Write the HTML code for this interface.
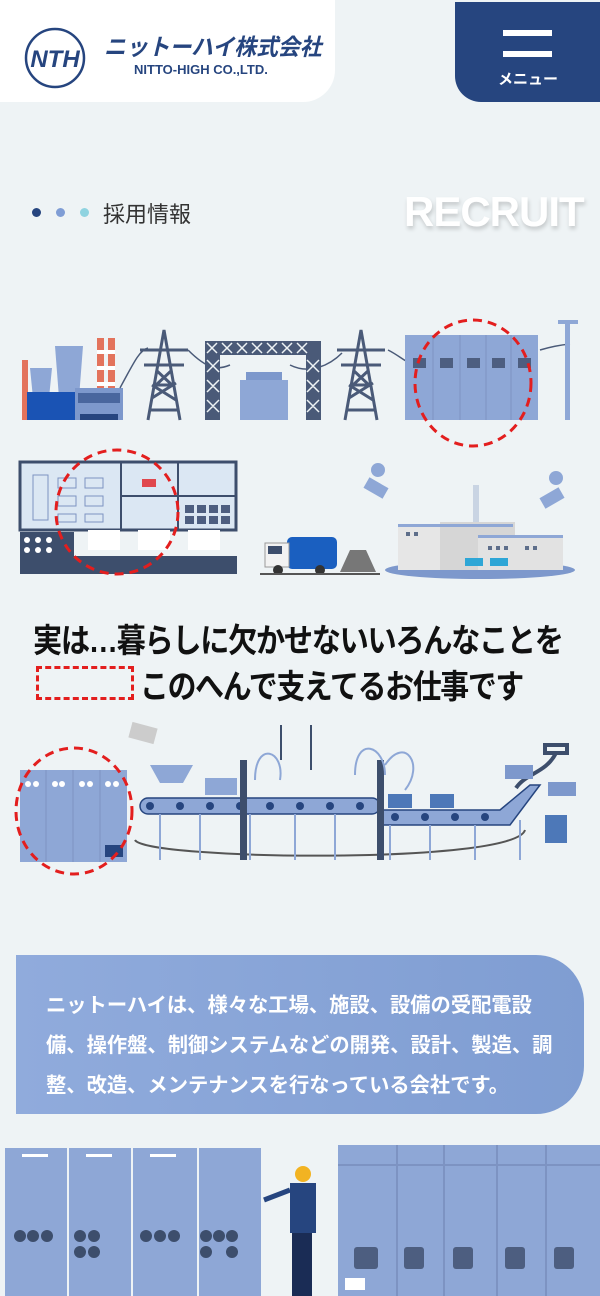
<!DOCTYPE html>
<html><head><meta charset="utf-8">
<style>
html,body{margin:0;padding:0}
body{width:600px;height:1296px;position:relative;overflow:hidden;background:#eef3f5;font-family:"Liberation Sans","Noto Sans CJK JP",sans-serif}
.abs{position:absolute}
.p{position:absolute;left:46px;font-size:20.3px;font-weight:bold;color:#fff;white-space:nowrap}
</style></head><body>
<div class="abs" style="left:0;top:0;width:335px;height:102px;background:#fff;border-bottom-right-radius:32px"></div>
<svg class="abs" style="left:22px;top:25px" width="66" height="66" viewBox="0 0 66 66">
<circle cx="33" cy="33" r="29" fill="none" stroke="#26457f" stroke-width="2.5"/>
<text x="33" y="42" text-anchor="middle" font-family="Liberation Sans" font-style="italic" font-weight="bold" font-size="24" fill="#26457f">NTH</text>
</svg>
<div class="abs" style="left:104px;top:28px;font-size:23px;font-weight:bold;font-style:italic;color:#26457f;white-space:nowrap;transform:scaleX(.95);transform-origin:left">ニットーハイ株式会社</div>
<div class="abs" style="left:134px;top:62px;font-size:13px;font-weight:bold;color:#26457f;white-space:nowrap">NITTO-HIGH CO.,LTD.</div>
<div class="abs" style="left:455px;top:2px;width:145px;height:100px;background:#26457f;border-bottom-left-radius:26px"></div>
<div class="abs" style="left:503px;top:30px;width:49px;height:6px;background:#fff"></div>
<div class="abs" style="left:503px;top:51px;width:49px;height:6px;background:#fff"></div>
<div class="abs" style="left:486px;top:68px;width:84px;text-align:center;font-size:15px;font-weight:bold;color:#fff">メニュー</div>

<div class="abs" style="left:32px;top:208px;width:9px;height:9px;border-radius:50%;background:#26457f"></div>
<div class="abs" style="left:56px;top:208px;width:9px;height:9px;border-radius:50%;background:#7f9dd5"></div>
<div class="abs" style="left:80px;top:208px;width:9px;height:9px;border-radius:50%;background:#8fd3e0"></div>
<div class="abs" style="left:103px;top:197px;font-size:22px;color:#333">採用情報</div>
<div class="abs" style="left:404px;top:188px;font-size:42px;font-weight:bold;color:#fff;text-shadow:1px 3px 4px rgba(0,0,0,.18);letter-spacing:-1px">RECRUIT</div>

<svg class="abs" style="left:0;top:300px" width="600" height="300" viewBox="0 0 600 300">
<rect x="22" y="60" width="6" height="60" fill="#e3735c"/>
<rect x="97" y="38" width="7" height="62" fill="#e3735c"/><rect x="108" y="38" width="7" height="62" fill="#e3735c"/>
<rect x="97" y="50" width="18" height="4" fill="#fff"/><rect x="97" y="66" width="18" height="4" fill="#fff"/><rect x="97" y="82" width="18" height="4" fill="#fff"/>
<path d="M30 68h22l-3 30h-16z" fill="#8ea7d6"/>
<path d="M55 46h28l-4 52h-20z" fill="#8ea7d6"/>
<rect x="27" y="92" width="50" height="28" fill="#1a53b4"/>
<rect x="75" y="88" width="48" height="32" fill="#7d98cc"/>
<rect x="78" y="93" width="42" height="10" fill="#26457f" opacity=".6"/>
<rect x="80" y="114" width="38" height="6" fill="#26457f"/>
<g fill="none" stroke="#4a5a78" stroke-width="3">
<path d="M148 120L164 30L180 120M150 110h28M154 85h20M157 65h14M152 98l24-15M152 85l24 15M156 70l16 15M172 70l-16 15M140 50h48M144 65h40"/>
<path d="M345 120L361 30L377 120M347 110h28M351 85h20M354 65h14M349 98l24-15M349 85l24 15M353 70l16 15M369 70l-16 15M337 50h48M341 65h40"/>
<path d="M120 88C135 60 140 50 148 48M188 50c20 20 30 20 42 15M290 65c20 10 40 0 52-12M388 50c10 5 15 10 20 12M540 50c10-3 20-5 30-6" stroke-width="1.5"/>
</g>
<g fill="#4a5a78"><rect x="205" y="41" width="116" height="14"/><rect x="205" y="41" width="15" height="79"/><rect x="306" y="41" width="15" height="79"/></g>
<g stroke="#eef3f5" stroke-width="1.5"><path d="M207 43l10 10M217 43l-10 10M222 43l10 10M232 43l-10 10M237 43l10 10M247 43l-10 10M252 43l10 10M262 43l-10 10M267 43l10 10M277 43l-10 10M282 43l10 10M292 43l-10 10M297 43l10 10M307 43l-10 10M307 60l12 12M319 60l-12 12M307 80l12 12M319 80l-12 12M307 100l12 12M319 100l-12 12M207 60l12 12M219 60l-12 12M207 80l12 12M219 80l-12 12M207 100l12 12M219 100l-12 12"/></g>
<rect x="240" y="80" width="48" height="40" fill="#8ea7d6"/><rect x="246" y="72" width="36" height="8" fill="#7d98cc"/>
<rect x="405" y="35" width="133" height="85" fill="#8ea7d6"/>
<g fill="#4d5e80"><rect x="413" y="58" width="13" height="10"/><rect x="440" y="58" width="13" height="10"/><rect x="467" y="58" width="13" height="10"/><rect x="492" y="58" width="13" height="10"/><rect x="518" y="58" width="13" height="10"/></g>
<g stroke="#7d93c2"><path d="M433 35v85M460 35v85M486 35v85M511 35v85"/></g>
<rect x="565" y="20" width="5" height="100" fill="#8ea7d6"/><rect x="558" y="20" width="20" height="4" fill="#8ea7d6"/>
<ellipse cx="473" cy="83" rx="58" ry="63" fill="none" stroke="#e31e1e" stroke-width="3" stroke-dasharray="9 6"/>
<rect x="20" y="162" width="216" height="68" fill="#dbe7f3" stroke="#3d4e6c" stroke-width="3"/>
<path d="M121 162v68M178 162v68M121 196h57M178 196h57" stroke="#3d4e6c" stroke-width="2"/>
<g fill="none" stroke="#7d93c2"><rect x="33" y="175" width="15" height="45"/><rect x="58" y="178" width="18" height="10"/><rect x="85" y="178" width="18" height="10"/><rect x="58" y="196" width="18" height="10"/><rect x="85" y="196" width="18" height="10"/><rect x="58" y="214" width="18" height="8"/><rect x="85" y="214" width="18" height="8"/></g>
<rect x="142" y="179" width="14" height="8" fill="#e0474d"/>
<g fill="#4d5e80"><rect x="185" y="205" width="9" height="8"/><rect x="197" y="205" width="9" height="8"/><rect x="209" y="205" width="9" height="8"/><rect x="221" y="205" width="9" height="8"/><rect x="185" y="216" width="9" height="8"/><rect x="197" y="216" width="9" height="8"/><rect x="209" y="216" width="9" height="8"/><rect x="221" y="216" width="9" height="8"/></g>
<rect x="20" y="232" width="54" height="24" fill="#3d4e6c"/>
<g fill="#fff"><circle cx="27" cy="240" r="3"/><circle cx="38" cy="240" r="3"/><circle cx="49" cy="240" r="3"/><circle cx="27" cy="250" r="3"/><circle cx="38" cy="250" r="3"/><circle cx="49" cy="250" r="3"/>
<rect x="88" y="230" width="32" height="20"/><rect x="138" y="230" width="32" height="20"/><rect x="188" y="230" width="32" height="20"/></g>
<rect x="20" y="256" width="217" height="18" fill="#3d4e6c"/>
<ellipse cx="117" cy="212" rx="61" ry="62" fill="none" stroke="#e31e1e" stroke-width="3" stroke-dasharray="9 6"/>
<rect x="287" y="237" width="50" height="32" rx="5" fill="#1a5fc0"/>
<rect x="265" y="243" width="24" height="24" fill="#f2f2f2" stroke="#999"/>
<rect x="268" y="246" width="14" height="8" fill="#3d4e6c"/>
<circle cx="278" cy="270" r="5" fill="#333"/><circle cx="320" cy="270" r="5" fill="#333"/>
<path d="M340 272l10-22h16l10 22z" fill="#777"/>
<path d="M260 274h120" stroke="#555" stroke-width="2"/>
<ellipse cx="480" cy="270" rx="95" ry="9" fill="#7d98cc"/>
<rect x="398" y="225" width="115" height="45" fill="#e6e6e6"/>
<rect x="473" y="185" width="6" height="45" fill="#c9d4e3"/>
<rect x="440" y="222" width="75" height="48" fill="#d6d6d6"/>
<rect x="478" y="236" width="85" height="34" fill="#e2e2e2"/>
<rect x="398" y="224" width="115" height="3" fill="#8ea7d6"/><rect x="478" y="235" width="85" height="3" fill="#8ea7d6"/>
<g fill="#5e6e8a"><rect x="406" y="232" width="4" height="4"/><rect x="414" y="232" width="4" height="4"/><rect x="488" y="246" width="4" height="4"/><rect x="496" y="246" width="4" height="4"/><rect x="504" y="246" width="4" height="4"/><rect x="525" y="246" width="4" height="4"/><rect x="533" y="246" width="4" height="4"/></g>
<rect x="465" y="258" width="18" height="8" fill="#2ea6d6"/><rect x="490" y="258" width="18" height="8" fill="#2ea6d6"/>
<g fill="#8ea7d6"><circle cx="378" cy="170" r="7"/><rect x="365" y="182" width="22" height="12" transform="rotate(30 376 188)"/><circle cx="556" cy="178" r="7"/><rect x="541" y="192" width="22" height="12" transform="rotate(-30 552 198)"/></g>
</svg>

<div class="abs" style="left:33px;top:614px;font-size:33px;font-weight:bold;color:#111;white-space:nowrap;letter-spacing:-1.5px;transform:scaleX(.885);transform-origin:left">実は…暮らしに欠かせないいろんなことを</div>
<div class="abs" style="left:36px;top:666px;width:92px;height:28px;border:3px dashed #e31e1e"></div>
<div class="abs" style="left:140px;top:660px;font-size:33px;font-weight:bold;color:#111;white-space:nowrap;letter-spacing:-1.5px;transform:scaleX(.875);transform-origin:left">このへんで支えてるお仕事です</div>

<svg class="abs" style="left:0;top:720px" width="600" height="170" viewBox="0 0 600 170">
<rect x="20" y="50" width="107" height="92" fill="#8ea7d6"/>
<g stroke="#7d93c2"><path d="M46 50v92M73 50v92M100 50v92"/></g>
<g fill="#fff"><circle cx="28" cy="64" r="3"/><circle cx="36" cy="64" r="3"/><circle cx="55" cy="64" r="3"/><circle cx="62" cy="64" r="3"/><circle cx="82" cy="64" r="3"/><circle cx="90" cy="64" r="3"/><circle cx="108" cy="64" r="3"/><circle cx="116" cy="64" r="3"/></g>
<rect x="105" y="125" width="18" height="12" fill="#26457f"/>
<ellipse cx="74" cy="91" rx="58" ry="63" fill="none" stroke="#e31e1e" stroke-width="3" stroke-dasharray="9 6"/>
<rect x="130" y="5" width="26" height="16" fill="#ccc" transform="rotate(15 143 13)"/>
<path d="M150 45h43l-10 18h-23z" fill="#8ea7d6"/>
<rect x="205" y="58" width="32" height="17" fill="#8ea7d6"/>
<path d="M135 120c10 20 380 25 390-10" fill="none" stroke="#555" stroke-width="2"/>
<rect x="140" y="78" width="240" height="16" rx="8" fill="#8ea7d6" stroke="#26457f" stroke-width="1.5"/>
<path d="M380 90h120l30-25h10l-30 40h-130z" fill="#8ea7d6" stroke="#26457f" stroke-width="1.5"/>
<g fill="#26457f"><circle cx="150" cy="86" r="4"/><circle cx="180" cy="86" r="4"/><circle cx="210" cy="86" r="4"/><circle cx="240" cy="86" r="4"/><circle cx="270" cy="86" r="4"/><circle cx="300" cy="86" r="4"/><circle cx="330" cy="86" r="4"/><circle cx="360" cy="86" r="4"/><circle cx="395" cy="97" r="4"/><circle cx="425" cy="97" r="4"/><circle cx="455" cy="97" r="4"/><circle cx="485" cy="97" r="4"/></g>
<g stroke="#8ea7d6" stroke-width="2"><path d="M160 94v46M200 94v46M250 94v46M295 94v46M335 94v46M390 105v35M430 105v35M475 105v35M520 100v40"/></g>
<rect x="240" y="40" width="7" height="100" fill="#3d4e6c"/><rect x="377" y="40" width="7" height="100" fill="#3d4e6c"/>
<rect x="388" y="74" width="24" height="14" fill="#4d78b8"/><rect x="430" y="74" width="24" height="14" fill="#4d78b8"/>
<rect x="545" y="95" width="22" height="28" fill="#4d78b8"/>
<path d="M545 25h22v8h-22zM556 33c-10 20-30 20-40 35" fill="none" stroke="#3d4e6c" stroke-width="4"/>
<rect x="505" y="45" width="28" height="14" fill="#7d98cc"/><rect x="548" y="62" width="28" height="14" fill="#7d98cc"/>
<path d="M255 60c0-40 30-30 25 0M355 55c0-40 30-30 30 0M385 45c20-30 40 0 20 25" fill="none" stroke="#8ea7d6" stroke-width="2"/>
<rect x="280" y="5" width="2" height="35" fill="#3d4e6c"/><rect x="310" y="5" width="2" height="45" fill="#3d4e6c"/>
</svg>

<div class="abs" style="left:16px;top:955px;width:568px;height:159px;background:linear-gradient(90deg,#90abdc,#7f9dd2);border-top-right-radius:48px;border-bottom-right-radius:48px"></div>
<div class="p" style="top:988px">ニットーハイは、様々な工場、施設、設備の受配電設</div>
<div class="p" style="top:1028px">備、操作盤、制御システムなどの開発、設計、製造、調</div>
<div class="p" style="top:1068px">整、改造、メンテナンスを行なっている会社です。</div>

<svg class="abs" style="left:0;top:1140px" width="600" height="156" viewBox="0 0 600 156">
<g fill="#8ea7d6"><rect x="5" y="8" width="62" height="148"/><rect x="69" y="8" width="62" height="148"/><rect x="133" y="8" width="64" height="148"/><rect x="199" y="8" width="62" height="148"/><rect x="338" y="5" width="262" height="151"/></g>
<g fill="#fff"><rect x="22" y="14" width="26" height="3"/><rect x="86" y="14" width="26" height="3"/><rect x="150" y="14" width="26" height="3"/></g>
<g fill="#3d4e6c"><circle cx="20" cy="96" r="6"/><circle cx="33" cy="96" r="6"/><circle cx="47" cy="96" r="6"/><circle cx="80" cy="96" r="6"/><circle cx="94" cy="96" r="6"/><circle cx="80" cy="112" r="6"/><circle cx="94" cy="112" r="6"/><circle cx="146" cy="96" r="6"/><circle cx="160" cy="96" r="6"/><circle cx="174" cy="96" r="6"/><circle cx="206" cy="96" r="6"/><circle cx="219" cy="96" r="6"/><circle cx="232" cy="96" r="6"/><circle cx="206" cy="112" r="6"/><circle cx="232" cy="112" r="6"/></g>
<g fill="#4d5e80"><rect x="354" y="107" width="24" height="22" rx="3"/><rect x="404" y="107" width="20" height="22" rx="3"/><rect x="453" y="107" width="20" height="22" rx="3"/><rect x="505" y="107" width="20" height="22" rx="3"/><rect x="554" y="107" width="20" height="22" rx="3"/></g>
<g stroke="#7d93c2" stroke-width="2"><path d="M338 25h262M397 5v151M444 5v151M497 5v151M546 5v151"/></g>
<rect x="345" y="138" width="20" height="12" fill="#fff"/>
<circle cx="303" cy="34" r="8" fill="#f2b322"/><rect x="290" y="43" width="26" height="50" fill="#26457f"/><rect x="292" y="93" width="20" height="63" fill="#1a2c55"/>
<path d="M290 50l-26 10" stroke="#26457f" stroke-width="5"/>
</svg>
</body></html>
